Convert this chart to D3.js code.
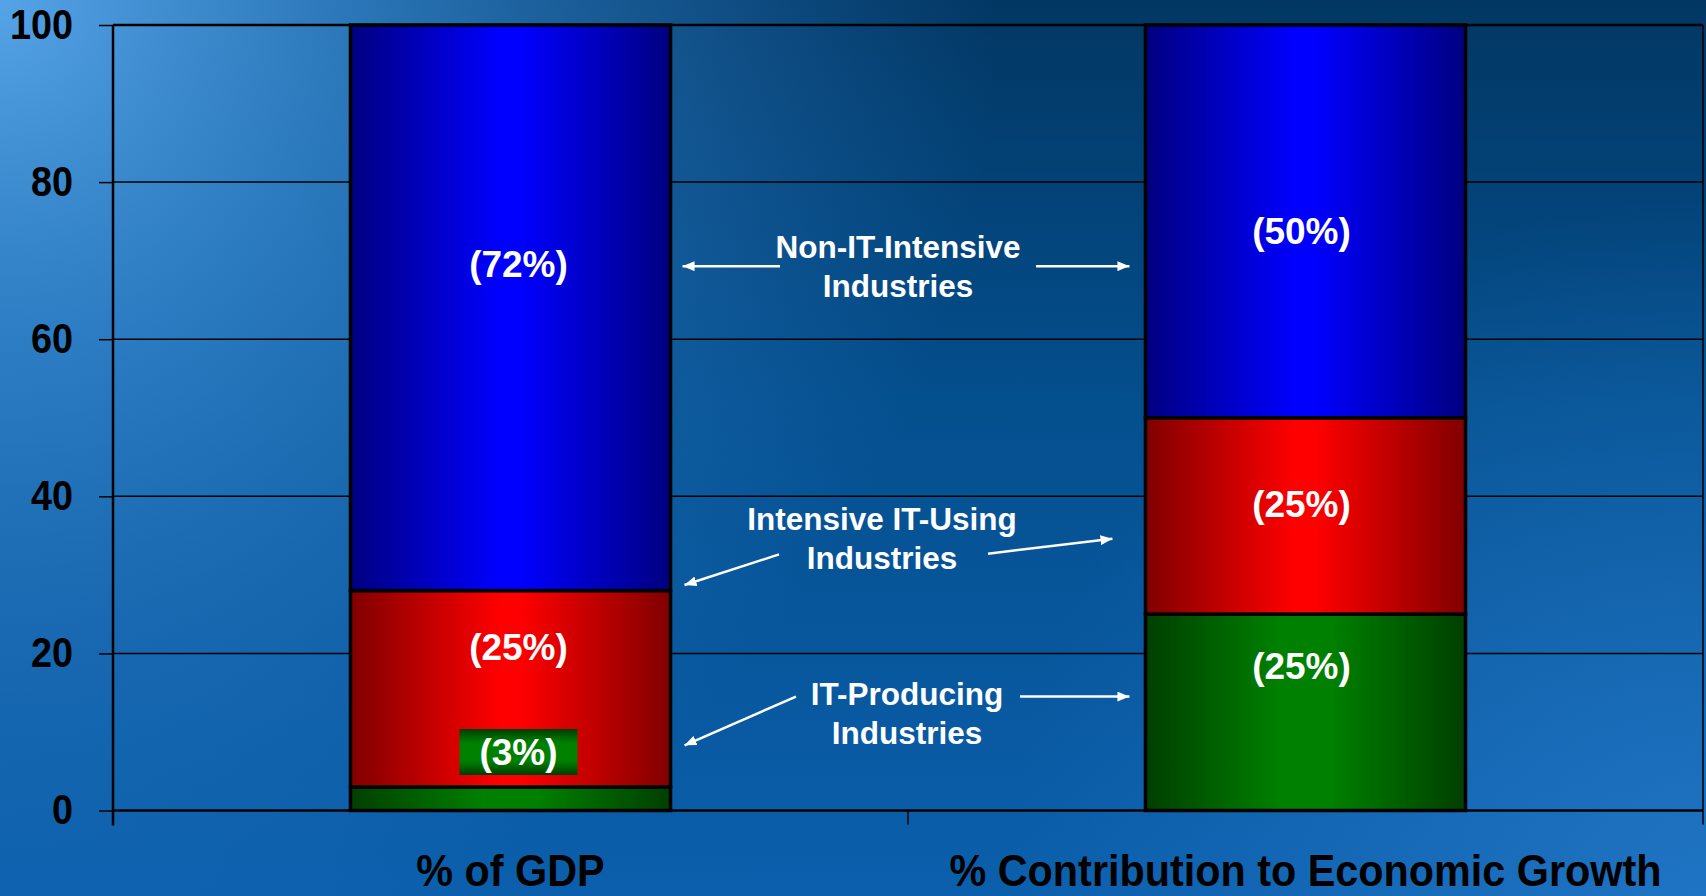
<!DOCTYPE html>
<html><head><meta charset="utf-8">
<script src="https://cdn.jsdelivr.net/npm/d3@7"></script>
<style>html,body{margin:0;padding:0;overflow:hidden;background:#0a4f8f}</style>
</head><body><svg id="chart" width="1706" height="896"></svg>
<script>
// ---- data ----
const categories = ["% of GDP", "% Contribution to Economic Growth"];
const itProducing = [3, 25];
const itUsing = [25, 25];
const nonItIntensive = [72, 50];
const yTickValues = [0, 20, 40, 60, 80, 100];
const seriesKeys = ["itProducing", "itUsing", "nonItIntensive"];

// ---- layout ----
const W = 1706, H = 896;
const M = {left: 113, right: 3, top: 25, bottom: 85.5};
const FONT = "'Liberation Sans', Arial, Helvetica, sans-serif";
const barFrac = 0.4026;
// label centres (value units) per bar/segment, and x nudges (px)
const labelAt = {itProducing: [7.45, 18.5], itUsing: [20.8, 39.0], nonItIntensive: [69.6, 73.8]};
const labelDx = [8, -4];

const svg = d3.select("#chart");
const defs = svg.append("defs");

// background
const bgV = defs.append("linearGradient").attr("id", "bgV").attr("x1", 0).attr("y1", 0).attr("x2", 0).attr("y2", 1);
[[0, "#023763"], [0.45, "#044f8e"], [1, "#0b5fac"]].forEach(s => bgV.append("stop").attr("offset", s[0]).attr("stop-color", s[1]));
const bgR1 = defs.append("radialGradient").attr("id", "bgR1").attr("gradientUnits", "userSpaceOnUse")
  .attr("cx", 0).attr("cy", 0).attr("r", 1000);
[[0, "rgba(90,170,238,0.95)"], [0.35, "rgba(60,145,220,0.7)"], [1, "rgba(40,120,200,0)"]].forEach(s => bgR1.append("stop").attr("offset", s[0]).attr("stop-color", s[1]));
const bgR2 = defs.append("radialGradient").attr("id", "bgR2").attr("gradientUnits", "userSpaceOnUse")
  .attr("cx", W).attr("cy", H).attr("r", 700);
[[0, "rgba(40,125,205,0.7)"], [1, "rgba(40,125,205,0)"]].forEach(s => bgR2.append("stop").attr("offset", s[0]).attr("stop-color", s[1]));
svg.append("rect").attr("width", W).attr("height", H).attr("fill", "url(#bgV)");
svg.append("rect").attr("width", W).attr("height", H).attr("fill", "url(#bgR1)");
svg.append("rect").attr("width", W).attr("height", H).attr("fill", "url(#bgR2)");

// bar gradients
const grads = {
  itProducing: [[0, "#003f00"], [0.42, "#008000"], [0.58, "#008000"], [1, "#003f00"]],
  itUsing: [[0, "#800000"], [0.47, "#ff0000"], [0.53, "#ff0000"], [1, "#800000"]],
  nonItIntensive: [[0, "#000080"], [0.47, "#0000ff"], [0.53, "#0000ff"], [1, "#000080"]]
};
Object.entries(grads).forEach(([k, stops]) => {
  const g = defs.append("linearGradient").attr("id", "g_" + k).attr("x1", 0).attr("x2", 1).attr("y1", 0).attr("y2", 0);
  stops.forEach(s => g.append("stop").attr("offset", s[0]).attr("stop-color", s[1]));
});
const gBox = defs.append("linearGradient").attr("id", "g_box").attr("x1", 0).attr("x2", 0).attr("y1", 0).attr("y2", 1);
[[0, "#003c00"], [0.3, "#008000"], [0.7, "#008000"], [1, "#003c00"]].forEach(s => gBox.append("stop").attr("offset", s[0]).attr("stop-color", s[1]));

// arrow marker
defs.append("marker").attr("id", "arrow").attr("markerUnits", "userSpaceOnUse")
  .attr("viewBox", "0 0 12 10").attr("refX", 12).attr("refY", 5)
  .attr("markerWidth", 12).attr("markerHeight", 10).attr("orient", "auto")
  .append("path").attr("d", "M0,0 L12,5 L0,10 Z").attr("fill", "#fff");

// scales
const x = d3.scaleBand().domain(categories).range([M.left, W - M.right]).padding(0);
const y = d3.scaleLinear().domain([0, 100]).range([H - M.bottom, M.top]);
const bw = x.bandwidth() * barFrac;
const barX = c => x(c) + (x.bandwidth() - bw) / 2;

// gridlines
svg.append("g").selectAll("line").data(yTickValues.filter(v => v > 0)).join("line")
  .attr("x1", M.left).attr("x2", W - M.right)
  .attr("y1", d => y(d)).attr("y2", d => y(d))
  .attr("stroke", "#000").attr("stroke-width", d => d === 100 ? 2.5 : 1.5);
// right border
svg.append("line").attr("x1", W - M.right).attr("x2", W - M.right).attr("y1", y(100)).attr("y2", y(0))
  .attr("stroke", "#000").attr("stroke-width", 1.5);

// stacked data
const rows = categories.map((c, i) => ({cat: c, itProducing: itProducing[i], itUsing: itUsing[i], nonItIntensive: nonItIntensive[i], idx: i}));
const stack = d3.stack().keys(seriesKeys)(rows);

const gBars = svg.append("g");
stack.forEach(layer => {
  gBars.append("g").selectAll("rect").data(layer).join("rect")
    .attr("x", d => barX(d.data.cat))
    .attr("width", bw)
    .attr("y", d => y(d[1]))
    .attr("height", d => y(d[0]) - y(d[1]))
    .attr("fill", "url(#g_" + layer.key + ")")
    .attr("stroke", "#000").attr("stroke-width", 3.5);
});

// axes
const yAxis = d3.axisLeft(y).tickValues(yTickValues).tickSize(14).tickPadding(26).tickFormat(d3.format("d"));
const gy = svg.append("g").attr("transform", `translate(${M.left},0)`).call(yAxis);
gy.select(".domain").attr("stroke", "#000").attr("stroke-width", 2.5).attr("d", `M0,${y(100)}V${y(0) + 15}`);
gy.selectAll(".tick line").attr("stroke", "#000").attr("stroke-width", 1.5);
gy.selectAll(".tick text").attr("fill", "#000").attr("x", 0)
  .attr("transform", "translate(-40,0) scale(0.9,1)")
  .style("font-family", FONT).style("font-weight", "bold").style("font-size", "42px");

// x axis baseline & ticks at band boundaries
svg.append("line").attr("x1", M.left).attr("x2", W - M.right).attr("y1", y(0)).attr("y2", y(0))
  .attr("stroke", "#000").attr("stroke-width", 2.5);
const bounds = categories.map(c => x(c)).concat([x(categories[categories.length - 1]) + x.bandwidth()]);
svg.append("g").selectAll("line").data(bounds.slice(1)).join("line")
  .attr("x1", d => d).attr("x2", d => d).attr("y1", y(0)).attr("y2", y(0) + 14)
  .attr("stroke", "#000").attr("stroke-width", 1.5);

// category labels
svg.append("g").selectAll("text").data(categories).join("text")
  .attr("transform", d => `translate(${x(d) + x.bandwidth() / 2},${H - 10}) scale(0.94,1)`)
  .attr("text-anchor", "middle")
  .style("font-family", FONT).style("font-weight", "bold").style("font-size", "44px")
  .attr("fill", "#000").text(d => d);

// value labels
const gLab = svg.append("g");
seriesKeys.forEach(k => {
  rows.forEach((r, i) => {
    const cx = barX(r.cat) + bw / 2 + labelDx[i];
    const cy = y(labelAt[k][i]);
    if (k === "itProducing" && i === 0) {
      gLab.append("rect").attr("x", cx - 59).attr("y", cy - 23).attr("width", 118).attr("height", 46)
        .attr("fill", "url(#g_box)");
    }
    gLab.append("text").attr("x", cx).attr("y", cy).attr("dy", "0.36em")
      .attr("text-anchor", "middle").attr("fill", "#fff")
      .style("font-family", FONT).style("font-weight", "bold").style("font-size", "37px")
      .text(`(${r[k]}%)`);
  });
});

// annotations
const leftEdge = barX(categories[0]) + bw;   // right edge of bar 1
const rightEdge = barX(categories[1]);       // left edge of bar 2
const midX = (leftEdge + rightEdge) / 2;
const annotations = [
  {lines: ["Non-IT-Intensive", "Industries"], dx: -10, baseAt: 70.3,
   arrows: [[780, 69.3, leftEdge + 12, 69.3], [1036, 69.3, rightEdge - 16, 69.3]]},
  {lines: ["Intensive IT-Using", "Industries"], dx: -26, baseAt: 35.7,
   arrows: [[779, 32.6, leftEdge + 14, 28.7], [988, 32.7, rightEdge - 33, 34.6]]},
  {lines: ["IT-Producing", "Industries"], dx: -1, baseAt: 13.4,
   arrows: [[796, 14.5, leftEdge + 14, 8.3], [1020, 14.5, rightEdge - 16, 14.5]]}
];
const gAnn = svg.append("g");
annotations.forEach(a => {
  const t = gAnn.append("text").attr("text-anchor", "middle").attr("fill", "#fff")
    .style("font-family", FONT).style("font-weight", "bold").style("font-size", "31.5px");
  a.lines.forEach((l, j) => t.append("tspan").attr("x", midX + a.dx).attr("y", y(a.baseAt) + j * 39).text(l));
  a.arrows.forEach(([x1, v1, x2, v2]) => {
    gAnn.append("line").attr("x1", x1).attr("y1", y(v1)).attr("x2", x2).attr("y2", y(v2))
      .attr("stroke", "#fff").attr("stroke-width", 2.5).attr("marker-end", "url(#arrow)");
  });
});
</script></body></html>
